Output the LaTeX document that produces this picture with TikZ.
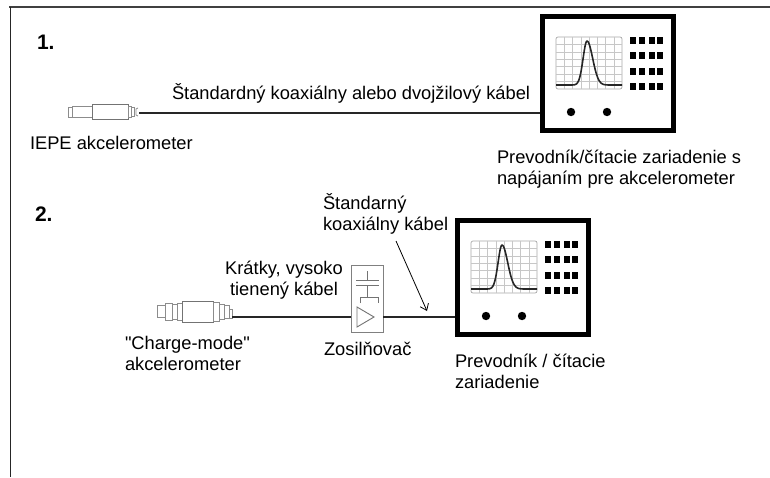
\documentclass[tikz,border=0pt]{standalone}
\usepackage{fontspec}
\setmainfont{Liberation Sans}[Ligatures=TeXOff]
\usetikzlibrary{arrows.meta}
\begin{document}
\begin{tikzpicture}[x=1pt,y=-1pt,
  lbl/.style={inner sep=0pt, outer sep=0pt, font=\fontsize{18.3}{21}\selectfont, align=left},
  num/.style={inner sep=0pt, outer sep=0pt, font=\fontsize{21}{24}\selectfont\bfseries},
  cable/.style={line width=1.8pt, black!85},
  sensor/.style={draw=black!45, line width=0.8pt, fill=white},
  ampline/.style={draw=black!55, line width=0.9pt},
  gridline/.style={draw=black!22, line width=0.5pt},
  device/.pic={
    % housing
    \draw[line width=5pt] (2.5,2.5) rectangle (133.5,116.5);
    % screen with grid and a peak
    \draw[black!35, line width=0.7pt, rounded corners=2pt] (16,23) rectangle (82,75);
    \foreach \i in {1,...,7} \draw[gridline] ({16+\i*8.25},23) -- ({16+\i*8.25},75);
    \foreach \j in {1,...,6} \draw[gridline] (16,{23+\j*52/7}) -- (82,{23+\j*52/7});
    \draw[line width=1.6pt, black!85, line join=round]
      plot[domain=16:82, samples=90] (\x,{71-44*exp(-((\x-47)/(\x<47?5.5:8))^2)});
    % keypad
    \foreach \cx in {90,99.3,108.7,117.3}
      \foreach \cy in {23,38,54,69}
        \fill (\cx,\cy) rectangle ++(6,7);
    % knobs
    \fill (31,98) circle[radius=4.2pt] (67,98) circle[radius=4.2pt];
    \coordinate (-in) at (0,99);
  }
]
\useasboundingbox (0,0) rectangle (770,477);

% page frame
\draw[black!75, line width=1.3pt] (9,7) -- (770,7);
\draw[black!85, line width=1pt] (10,7) -- (10,477);

% ---------- 1. IEPE chain ----------
\node[num, anchor=base west] (n1) at (37,49) {1.};

% IEPE accelerometer
\draw[sensor] (73,107) -- (68,107) -- (68,117) -- (73,117);
\draw[sensor] (72,106) rectangle (92,117);
\draw[sensor, draw=black!55] (92,104) rectangle (128,119);
\draw[sensor] (128,106) rectangle (131,117);
\draw[sensor] (131,107) rectangle (134,116);
\draw[sensor] (138,108) -- (136,109) -- (136,115) -- (138,116);
\coordinate (acc1-out) at (139,113);

\pic (dev1) at (540,14) {device};
\draw[cable] (acc1-out) -- (dev1-in);

\node[lbl, anchor=base west] (cab1) at (172,99) {Štandardný koaxiálny alebo dvojžilový kábel};
\node[lbl, anchor=base west] (acc1lbl) at (30,149) {IEPE akcelerometer};
\node[lbl, anchor=base west] (dev1lbl) at (497,184) {Prevodník/čítacie zariadenie s\\napájaním pre akcelerometer};

% ---------- 2. charge-mode chain ----------
\node[num, anchor=base west] (n2) at (35,221) {2.};

% charge-mode accelerometer
\draw[sensor] (157,305) rectangle (165,317);
\draw[sensor] (165,303) rectangle (172,320);
\draw[sensor] (172,304) rectangle (177,319);
\draw[sensor] (177,303) rectangle (182,320);
\draw[sensor, draw=black!55] (182,301) rectangle (213,322);
\draw[sensor] (213,302) rectangle (219,321);
\draw[sensor] (219,304) rectangle (224,319);
\draw[sensor] (224,305) rectangle (229,318);
\draw[sensor] (229,309) rectangle (232,318);
\coordinate (acc2-out) at (232,317);

% charge amplifier
\node[draw=black!50, line width=1pt, fill=white, inner sep=0pt, outer sep=0pt,
      minimum width=32pt, minimum height=67pt] (amp) at (367,298.5) {};
\draw[ampline] (367,271) -- (367,280);
\draw[ampline] (356,280) -- (379,280);
\draw[ampline] (356,285) -- (379,285);
\draw[ampline] (367,285) -- (367,297);
\draw[ampline] (360,303) -- (360,297) -- (378,297) -- (378,303);
\draw[ampline] (357,307) -- (357,327) -- (374,317) -- cycle;
\coordinate (amp-in) at (amp.west |- acc2-out);
\coordinate (amp-out) at (amp.east |- acc2-out);

\pic (dev2) at (455,218) {device};
\draw[cable] (acc2-out) -- (amp-in);
\draw[cable] (amp-out) -- (dev2-in);

\node[lbl, anchor=base west] (coaxlbl) at (323,230) {Štandarný\\koaxiálny kábel};
\node[lbl, anchor=base, align=center] (shortlbl) at (284,295) {Krátky, vysoko\\tienený kábel};
\node[lbl, anchor=base west] (acc2lbl) at (125,370) {"Charge-mode"\\akcelerometer};
\node[lbl, anchor=base west] (amplbl) at (324,355) {Zosilňovač};
\node[lbl, anchor=base west] (dev2lbl) at (455,388) {Prevodník / čítacie\\zariadenie};

% pointer from the coax label to the cable
\coordinate (coax-tail) at (396,241);
\coordinate (coax-tip) at (427,311);
\draw[line width=0.8pt, -{Straight Barb[length=6pt,width=9pt]}] (coax-tail) -- (coax-tip);
\end{tikzpicture}
\end{document}
